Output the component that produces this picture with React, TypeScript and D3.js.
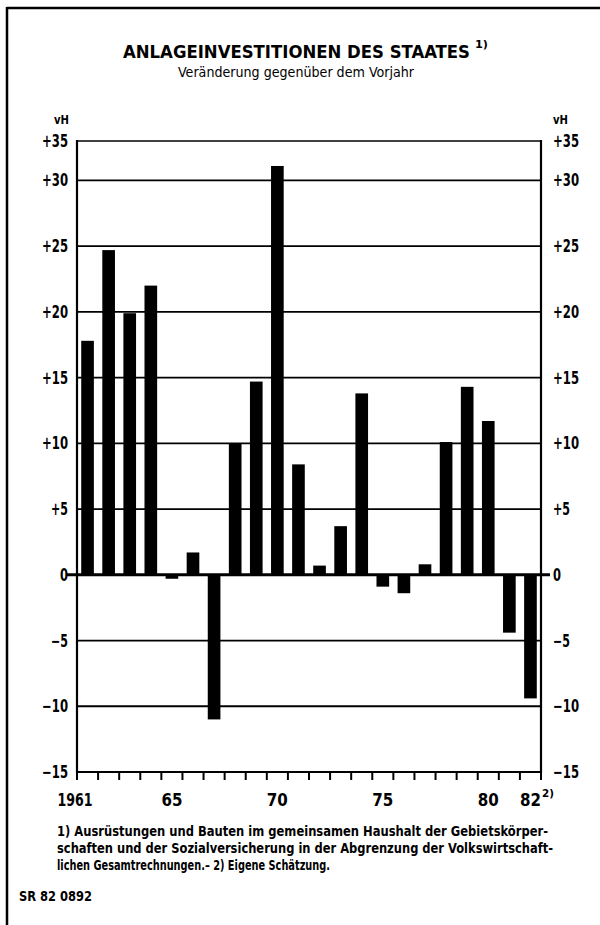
import React from "react";
import * as d3 from "d3";

const years = ["1961","1962","1963","1964","1965","1966","1967","1968","1969","1970","1971","1972","1973","1974","1975","1976","1977","1978","1979","1980","1981","1982"];
const values = [17.8, 24.7, 19.9, 22.0, -0.3, 1.7, -11.0, 10.0, 14.7, 31.1, 8.4, 0.7, 3.7, 13.8, -0.9, -1.4, 0.8, 10.1, 14.3, 11.7, -4.4, -9.4];
const yTicks = [-15, -10, -5, 0, 5, 10, 15, 20, 25, 30, 35];
const yTickLabels = ["\u221215", "\u221210", "\u22125", "0", "+5", "+10", "+15", "+20", "+25", "+30", "+35"];
const xLabelYears = ["1961", "1965", "1970", "1975", "1980", "1982"];
const xLabelTexts = ["1961", "65", "70", "75", "80", "82"];
const xLabelSups = ["", "", "", "", "", "2)"];
const title = "ANLAGEINVESTITIONEN DES STAATES";
const titleSup = "1)";
const subtitle = "Veränderung gegenüber dem Vorjahr";
const unit = "vH";
const footnotes = [
  "1) Ausrüstungen und Bauten im gemeinsamen Haushalt der Gebietskörper-",
  "schaften und der Sozialversicherung in der Abgrenzung der Volkswirtschaft-",
  "lichen Gesamtrechnungen.\u2013 2) Eigene Schätzung.",
];
const source = "SR 82 0892";

const FONT = "'Liberation Sans Narrow', 'DejaVu Sans Condensed', 'Liberation Sans', Arial, sans-serif";

export default function App() {
  const W = 600, H = 925;
  const left = 77, right = 541, top = 141, bottom = 772;
  const yMax = 33;
  const x = d3.scaleBand<string>().domain(years).range([left, right]).paddingInner(0.4).paddingOuter(0.2);
  const band = d3.scaleBand<string>().domain(years).range([left, right]);
  const y = d3.scaleLinear().domain([-15, yMax]).range([bottom, top]);
  const grid = yTicks.filter((v) => v !== 0 && v > -15 && v < yMax);
  const tickXs = years.map((yr) => band(yr)!).concat([right]);
  const footY = [836, 853, 870];
  const footLen = [491, 496, 273];
  const labLen = (s: string) => (s.length === 1 ? 8 : s.length === 2 ? 17 : 26);
  const yearLen = (s: string) => (s.length === 4 ? 35 : 21);

  return (
    <svg width={W} height={H} style={{ position: "absolute", left: 0, top: 0, background: "#fff" }} fontFamily={FONT}>
      <rect x={0} y={0} width={W} height={H} fill="#fff" />
      {/* frame */}
      <line x1={7} y1={8} x2={600} y2={8} stroke="#000" strokeWidth={2.5} />
      <line x1={7} y1={7} x2={7} y2={925} stroke="#000" strokeWidth={2.5} />

      {/* title */}
      <text x={123} y={58} fontSize={18} fontWeight="bold" textLength={347} lengthAdjust="spacingAndGlyphs">{title}</text>
      <text x={475} y={48} fontSize={11} fontWeight="bold" textLength={13} lengthAdjust="spacingAndGlyphs">{titleSup}</text>
      <text x={178} y={77} fontSize={14.5} textLength={236} lengthAdjust="spacingAndGlyphs">{subtitle}</text>

      {/* unit labels */}
      <text x={54} y={124} fontSize={13} fontWeight="bold" textLength={15} lengthAdjust="spacingAndGlyphs">{unit}</text>
      <text x={553} y={124} fontSize={13} fontWeight="bold" textLength={15} lengthAdjust="spacingAndGlyphs">{unit}</text>

      {/* gridlines */}
      {grid.map((v) => (
        <line key={v} x1={left} x2={right} y1={y(v)} y2={y(v)} stroke="#000" strokeWidth={1.8} />
      ))}
      {/* top border */}
      <line x1={left} x2={right} y1={top} y2={top} stroke="#000" strokeWidth={1.6} />

      {/* bars */}
      {values.map((v, i) => (
        <rect
          key={years[i]}
          x={x(years[i])}
          width={x.bandwidth()}
          y={Math.min(y(v), y(0))}
          height={Math.abs(y(v) - y(0))}
          fill="#000"
        />
      ))}

      {/* zero line */}
      <line x1={67} x2={550} y1={y(0)} y2={y(0)} stroke="#000" strokeWidth={3} />

      {/* axes */}
      <line x1={left} x2={left} y1={top - 1} y2={bottom + 1} stroke="#000" strokeWidth={2.2} />
      <line x1={right} x2={right} y1={top - 1} y2={bottom + 1} stroke="#000" strokeWidth={2.2} />
      <line x1={left} x2={right} y1={bottom} y2={bottom} stroke="#000" strokeWidth={2.2} />
      {tickXs.map((tx, i) => (
        <line key={i} x1={tx} x2={tx} y1={bottom} y2={bottom + 8} stroke="#000" strokeWidth={2} />
      ))}

      {/* y labels */}
      {yTicks.map((v, i) => {
        const ty = y(Math.min(v, yMax)) + 6;
        const s = yTickLabels[i];
        return (
          <g key={v}>
            <text x={68 - labLen(s)} y={ty} fontSize={17} fontWeight="bold" textLength={labLen(s)} lengthAdjust="spacingAndGlyphs">{s}</text>
            <text x={553} y={ty} fontSize={17} fontWeight="bold" textLength={labLen(s)} lengthAdjust="spacingAndGlyphs">{s}</text>
          </g>
        );
      })}

      {/* x labels */}
      {xLabelYears.map((yr, i) => {
        const s = xLabelTexts[i];
        const cx = i === 0 ? left - 2 : band(yr)! + band.bandwidth() / 2;
        const w = yearLen(s);
        return (
          <g key={yr}>
            <text x={cx - w / 2} y={806} fontSize={18} fontWeight="bold" textLength={w} lengthAdjust="spacingAndGlyphs">{s}</text>
            {xLabelSups[i] && (
              <text x={cx + w / 2 + 1} y={797} fontSize={11} fontWeight="bold" textLength={12} lengthAdjust="spacingAndGlyphs">{xLabelSups[i]}</text>
            )}
          </g>
        );
      })}

      {/* footnotes */}
      {footnotes.map((f, i) => (
        <text key={i} x={57} y={footY[i]} fontSize={13.5} fontWeight="bold" textLength={footLen[i]} lengthAdjust="spacingAndGlyphs">{f}</text>
      ))}
      <text x={19} y={901} fontSize={13.5} fontWeight="bold" textLength={73} lengthAdjust="spacingAndGlyphs">{source}</text>
    </svg>
  );
}
